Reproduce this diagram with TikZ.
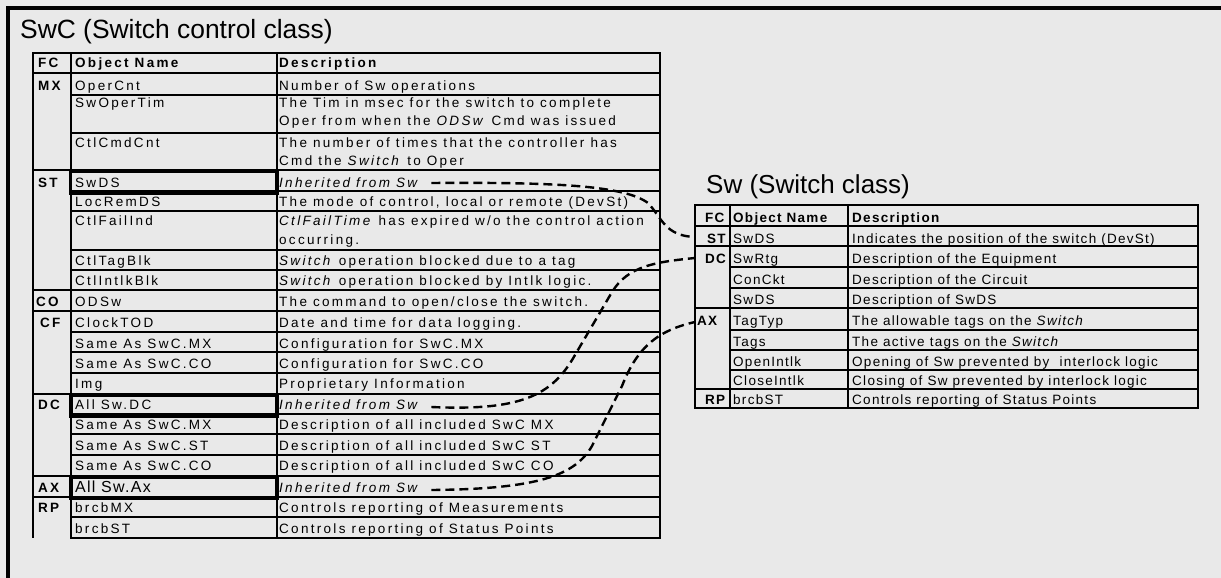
\documentclass[tikz,border=0pt]{standalone}
\usepackage{fontspec}
\setmainfont{Liberation Sans}
\newfontfamily\ltblfont[LetterSpace=17]{Liberation Sans}
\newfontfamily\rtblfont[LetterSpace=9.5]{Liberation Sans}
\newfontfamily\axfont[LetterSpace=8]{Liberation Sans}
\definecolor{bgc}{HTML}{E9E9E9}
\tikzset{
  frameline/.style={line width=3.5pt},
  tline/.style={line width=2.8pt, line cap=rect},
  hlbox/.style={line width=3.5pt},
  lcell/.style={anchor=base west, inner sep=0pt, font=\ltblfont\fontsize{13.5}{15}\selectfont},
  lhead/.style={lcell, font=\ltblfont\bfseries\fontsize{13.5}{15}\selectfont},
  rcell/.style={anchor=base west, inner sep=0pt, font=\rtblfont\fontsize{13.5}{15}\selectfont},
  rhead/.style={rcell, font=\rtblfont\bfseries\fontsize{13.5}{15}\selectfont},
  titletext/.style={anchor=base west, inner sep=0pt, font=\fontsize{26.4}{30}\selectfont},
  link/.style={line width=2.4pt, dash pattern=on 9pt off 5pt},
}
\begin{document}
\begin{tikzpicture}[x=1pt,y=-1pt]
\useasboundingbox (0,0) rectangle (1221,578);
\fill[bgc] (0,0) rectangle (1221,578);
\draw[frameline] (8,578) -- (8,8) -- (1221,8);

% titles
\node[titletext] (swcTitle) at (20,39) {SwC (Switch control class)};
\node[titletext, font=\fontsize{26}{30}\selectfont] (swTitle) at (706,193) {Sw (Switch class)};

% ---------- left table grid ----------
\foreach \y in {95,133,191,211,250,270,332,352,373,414,434,455,517,538}
  \draw[tline] (71,\y) -- (660,\y);
\foreach \y in {53,73,170,290,311,394,476,497}
  \draw[tline] (33,\y) -- (660,\y);
\draw[tline] (33,53) -- (33,537);
\draw[tline] (71,53) -- (71,538);
\draw[tline] (277,53) -- (277,538);
\draw[tline] (660,53) -- (660,538);

% highlighted inherited cells
\draw[hlbox] (70.5,171) rectangle (277,193.5);
\draw[hlbox] (71,395) rectangle (277,416);
\draw[hlbox] (71,477) rectangle (277,498);

% ---------- left table text ----------
\node[lhead] (lhFC) at (38,68) {FC};
\node[lhead] (lhON) at (75,68) {Object Name};
\node[lhead] (lhD) at (279,68) {Description};

\node[lhead] (lfMX) at (38,90) {MX};
\node[lcell] (l1n) at (75,90) {OperCnt};
\node[lcell] (l1d) at (279,90) {Number of Sw operations};
\node[lcell] (l2n) at (75,107) {SwOperTim};
\node[lcell] (l2d) at (279,107) {The Tim in msec for the switch to complete};
\node[lcell] (l2e) at (279,125) {Oper from when the \textit{ODSw} Cmd was issued};
\node[lcell] (l3n) at (75,147) {CtlCmdCnt};
\node[lcell] (l3d) at (279,147) {The number of times that the controller has};
\node[lcell] (l3e) at (279,165) {Cmd the \textit{Switch} to Oper};

\node[lhead] (lfST) at (38,187) {ST};
\node[lcell] (l4n) at (75,187) {SwDS};
\node[lcell] (l4d) at (279,187) {\textit{Inherited from Sw}};
\node[lcell] (l5n) at (75,206) {LocRemDS};
\node[lcell] (l5d) at (279,206) {The mode of control, local or remote (DevSt)};
\node[lcell] (l6n) at (75,225) {CtlFailInd};
\node[lcell] (l6d) at (279,225) {\textit{CtlFailTime} has expired w/o the control action};
\node[lcell] (l6e) at (279,244) {occurring.};
\node[lcell] (l7n) at (75,265) {CtlTagBlk};
\node[lcell] (l7d) at (279,265) {\textit{Switch} operation blocked due to a tag};
\node[lcell] (l8n) at (75,285) {CtlIntlkBlk};
\node[lcell] (l8d) at (279,285) {\textit{Switch} operation blocked by Intlk logic.};

\node[lhead] (lfCO) at (36,306) {CO};
\node[lcell] (l9n) at (75,306) {ODSw};
\node[lcell] (l9d) at (279,306) {The command to open/close the switch.};

\node[lhead] (lfCF) at (40,327) {CF};
\node[lcell] (l10n) at (75,327) {ClockTOD};
\node[lcell] (l10d) at (279,327) {Date and time for data logging.};
\node[lcell] (l11n) at (75,348) {Same As SwC.MX};
\node[lcell] (l11d) at (279,348) {Configuration for SwC.MX};
\node[lcell] (l12n) at (75,368) {Same As SwC.CO};
\node[lcell] (l12d) at (279,368) {Configuration for SwC.CO};
\node[lcell] (l13n) at (75,388) {Img};
\node[lcell] (l13d) at (279,388) {Proprietary Information};

\node[lhead] (lfDC) at (38,409) {DC};
\node[lcell] (l14n) at (75,409) {All Sw.DC};
\node[lcell] (l14d) at (279,409) {\textit{Inherited from Sw}};
\node[lcell] (l15n) at (75,429) {Same As SwC.MX};
\node[lcell] (l15d) at (279,429) {Description of all included SwC MX};
\node[lcell] (l16n) at (75,450) {Same As SwC.ST};
\node[lcell] (l16d) at (279,450) {Description of all included SwC ST};
\node[lcell] (l17n) at (75,470) {Same As SwC.CO};
\node[lcell] (l17d) at (279,470) {Description of all included SwC CO};

\node[lhead] (lfAX) at (38,492) {AX};
\node[anchor=base west, inner sep=0pt, font=\axfont\fontsize{16}{18}\selectfont] (l18n) at (75,492) {All Sw.Ax};
\node[lcell] (l18d) at (279,492) {\textit{Inherited from Sw}};

\node[lhead] (lfRP) at (38,512) {RP};
\node[lcell] (l19n) at (75,512) {brcbMX};
\node[lcell] (l19d) at (279,512) {Controls reporting of Measurements};
\node[lcell] (l20n) at (75,533) {brcbST};
\node[lcell] (l20d) at (279,533) {Controls reporting of Status Points};

% ---------- right table grid ----------
\foreach \y in {267,288,330,350,370}
  \draw[tline] (730,\y) -- (1198,\y);
\foreach \y in {205,226,246,308,389,408}
  \draw[tline] (695,\y) -- (1198,\y);
\foreach \x in {695,730,848,1198}
  \draw[tline] (\x,205) -- (\x,408);

% ---------- right table text ----------
\node[rhead] (rhFC) at (705,222) {FC};
\node[rhead] (rhON) at (733,222) {Object Name};
\node[rhead] (rhD) at (852,222) {Description};

\node[rhead] (rfST) at (707,243) {ST};
\node[rcell] (r1n) at (733,243) {SwDS};
\node[rcell] (r1d) at (852,243) {Indicates the position of the switch (DevSt)};

\node[rhead] (rfDC) at (705,263) {DC};
\node[rcell] (r2n) at (733,263) {SwRtg};
\node[rcell] (r2d) at (852,263) {Description of the Equipment};
\node[rcell] (r3n) at (733,284) {ConCkt};
\node[rcell] (r3d) at (852,284) {Description of the Circuit};
\node[rcell] (r4n) at (733,304) {SwDS};
\node[rcell] (r4d) at (852,304) {Description of SwDS};

\node[rhead] (rfAX) at (697,325) {AX};
\node[rcell] (r5n) at (733,325) {TagTyp};
\node[rcell] (r5d) at (852,325) {The allowable tags on the \textit{Switch}};
\node[rcell] (r6n) at (733,346) {Tags};
\node[rcell] (r6d) at (852,346) {The active tags on the \textit{Switch}};
\node[rcell] (r7n) at (733,366) {OpenIntlk};
\node[rcell] (r7d) at (852,366) {Opening of Sw prevented by\ \ interlock logic};
\node[rcell] (r8n) at (733,385) {CloseIntlk};
\node[rcell] (r8d) at (852,385) {Closing of Sw prevented by interlock logic};

\node[rhead] (rfRP) at (705,404) {RP};
\node[rcell] (r9n) at (733,404) {brcbST};
\node[rcell] (r9d) at (852,404) {Controls reporting of Status Points};

% ---------- connector end points ----------
\coordinate (inST) at (695,237);
\coordinate (inDC) at (695,258);
\coordinate (inAX) at (695,322);

% ---------- dashed inheritance links ----------
\draw[link] ([xshift=11pt,yshift=4pt]l4d.base east) .. controls (560,182) and (625,186) .. (648,203)
  .. controls (662,218) and (665,236) .. (inST);
\draw[link] ([xshift=11pt,yshift=2pt]l14d.base east) .. controls (520,411) and (552,396) .. (575,355)
  -- (612,292) .. controls (628,266) and (655,262) .. (inDC);
\draw[link] ([xshift=11pt,yshift=2pt]l18d.base east) .. controls (540,489) and (575,475) .. (592,446)
  -- (622,386) .. controls (638,345) and (660,330) .. (inAX);
\end{tikzpicture}
\end{document}
